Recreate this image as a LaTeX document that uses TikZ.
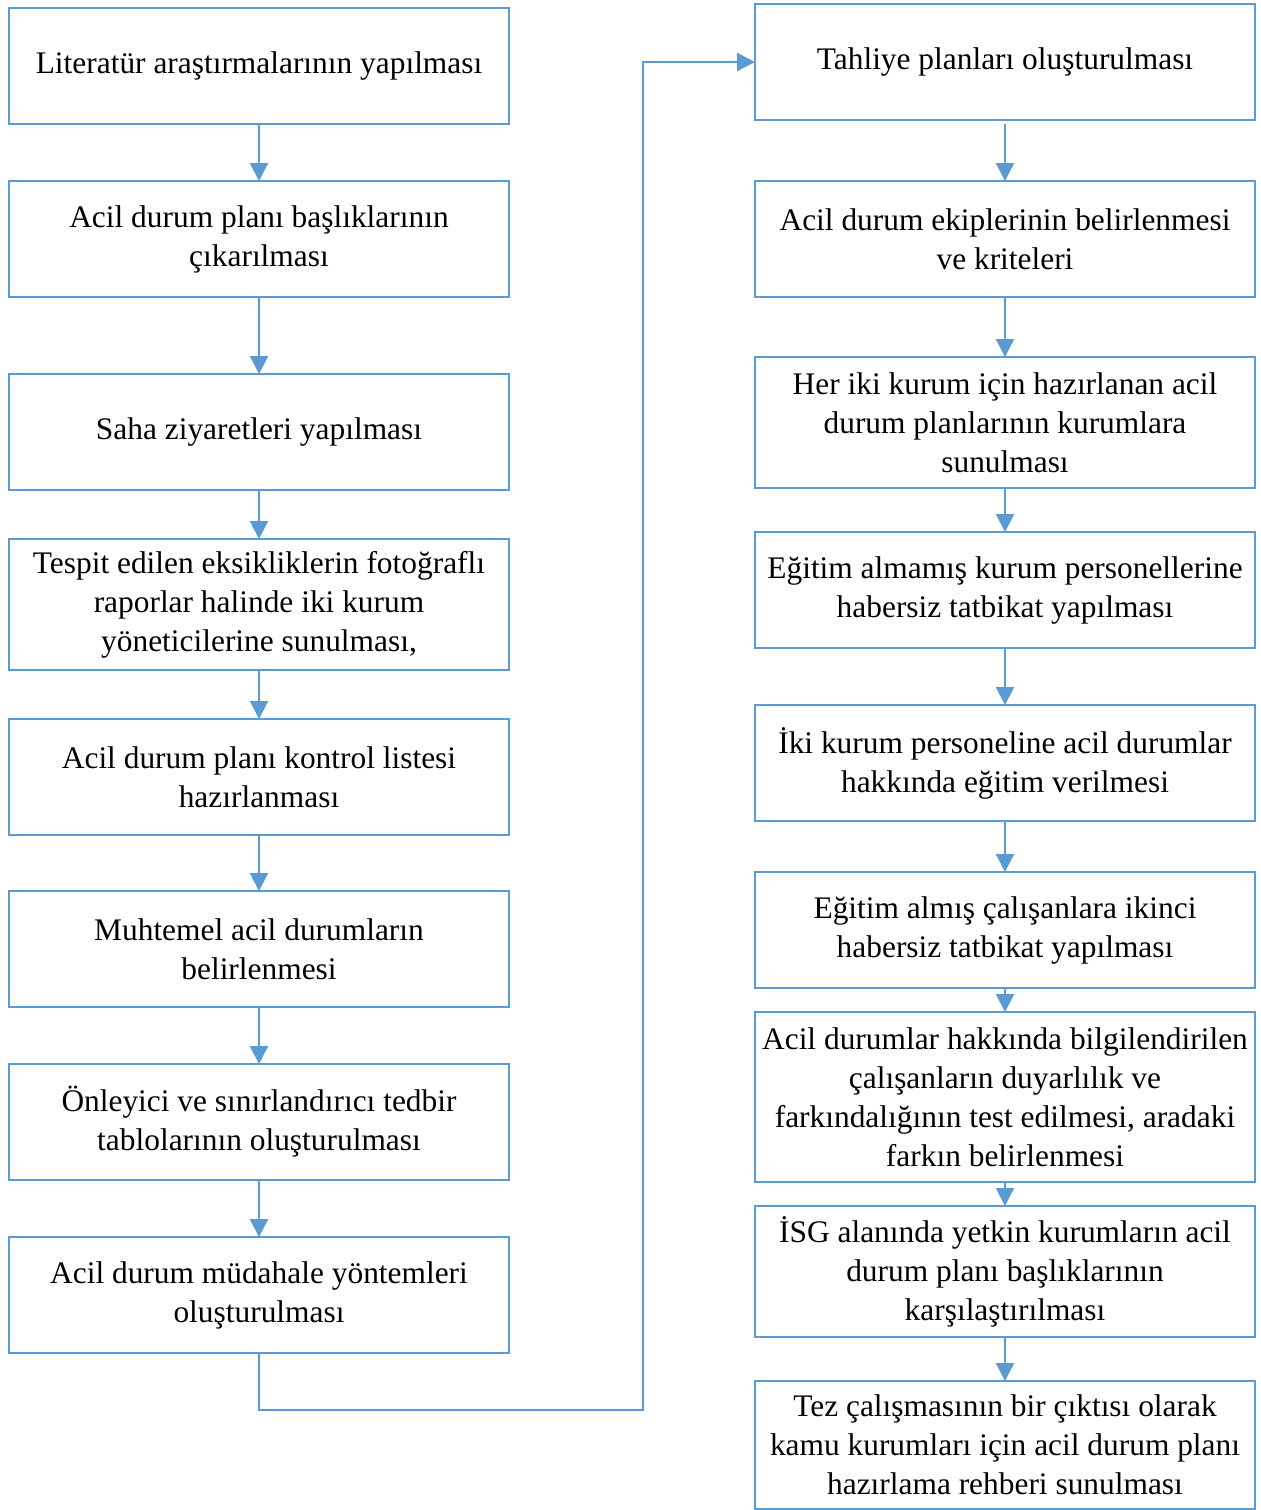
\documentclass[tikz,border=0pt]{standalone}
\usepackage{fontspec}
\setmainfont{Liberation Serif}
\usetikzlibrary{positioning, arrows.meta}
\definecolor{boxblue}{HTML}{5B9BD5}

\begin{document}
\begin{tikzpicture}[x=0.5pt, y=-0.5pt, node distance=28.5pt]
% Styles
\tikzstyle{process} = [rectangle, minimum width=250pt, minimum height=58pt, text centered, draw=boxblue, line width=1.1pt, align=center, outer sep=0pt, font=\fontsize{15.7}{19.5}\selectfont]
\tikzstyle{arrow} = [draw=boxblue, line width=1.1pt, -{Triangle[width=9pt, length=9pt]}]

\useasboundingbox (0,0) rectangle (1261,1510);

% Nodes
\node (lit) [process] at (259,66) {Literatür araştırmalarının yapılması};
\node (baslik) [process, below=28.5pt of lit] {Acil durum planı başlıklarının\\ çıkarılması};
\node (saha) [process, below=38.5pt of baslik] {Saha ziyaretleri yapılması};
\node (tespit) [process, below=24.5pt of saha, minimum height=65.5pt] {Tespit edilen eksikliklerin fotoğraflı\\ raporlar halinde iki kurum\\ yöneticilerine sunulması,};
\node (kontrol) [process, below=24.5pt of tespit] {Acil durum planı kontrol listesi\\ hazırlanması};
\node (muhtemel) [process, below=28pt of kontrol] {Muhtemel acil durumların\\ belirlenmesi};
\node (onleyici) [process, below=28.5pt of muhtemel] {Önleyici ve sınırlandırıcı tedbir\\ tablolarının oluşturulması};
\node (mudahale) [process, below=28.5pt of onleyici] {Acil durum müdahale yöntemleri\\ oluşturulması};

\node (tahliye) [process] at (1005,62) {Tahliye planları oluşturulması};
\node (ekip) [process, below=30.5pt of tahliye] {Acil durum ekiplerinin belirlenmesi\\ ve kriteleri};
\node (sunum) [process, below=30pt of ekip, minimum height=65.5pt] {Her iki kurum için hazırlanan acil\\ durum planlarının kurumlara\\ sunulması};
\node (tatbikat1) [process, below=22pt of sunum] {Eğitim almamış kurum personellerine\\ habersiz tatbikat yapılması};
\node (egitim) [process, below=28.5pt of tatbikat1] {İki kurum personeline acil durumlar\\ hakkında eğitim verilmesi};
\node (tatbikat2) [process, below=25.5pt of egitim] {Eğitim almış çalışanlara ikinci\\ habersiz tatbikat yapılması};
\node (test) [process, below=12pt of tatbikat2, minimum height=85pt] {Acil durumlar hakkında bilgilendirilen\\ çalışanların duyarlılık ve\\ farkındalığının test edilmesi, aradaki\\ farkın belirlenmesi};
\node (isg) [process, below=12pt of test, minimum height=65.5pt] {İSG alanında yetkin kurumların acil\\ durum planı başlıklarının\\ karşılaştırılması};
\node (rehber) [process, below=22pt of isg, minimum height=64pt] {Tez çalışmasının bir çıktısı olarak\\ kamu kurumları için acil durum planı\\ hazırlama rehberi sunulması};

% Arrows
\draw [arrow] (lit) -- (baslik);
\draw [arrow] (baslik) -- (saha);
\draw [arrow] (saha) -- (tespit);
\draw [arrow] (tespit) -- (kontrol);
\draw [arrow] (kontrol) -- (muhtemel);
\draw [arrow] (muhtemel) -- (onleyici);
\draw [arrow] (onleyici) -- (mudahale);

% Column change
\coordinate (turn) at (643,1410);
\draw [arrow] (mudahale.south) |- (turn) |- (tahliye.west);

\draw [arrow, shorten <=2pt] (tahliye) -- (ekip);
\draw [arrow] (ekip) -- (sunum);
\draw [arrow] (sunum) -- (tatbikat1);
\draw [arrow] (tatbikat1) -- (egitim);
\draw [arrow] (egitim) -- (tatbikat2);
\draw [arrow] (tatbikat2) -- (test);
\draw [arrow] (test) -- (isg);
\draw [arrow] (isg) -- (rehber);
\end{tikzpicture}
\end{document}
